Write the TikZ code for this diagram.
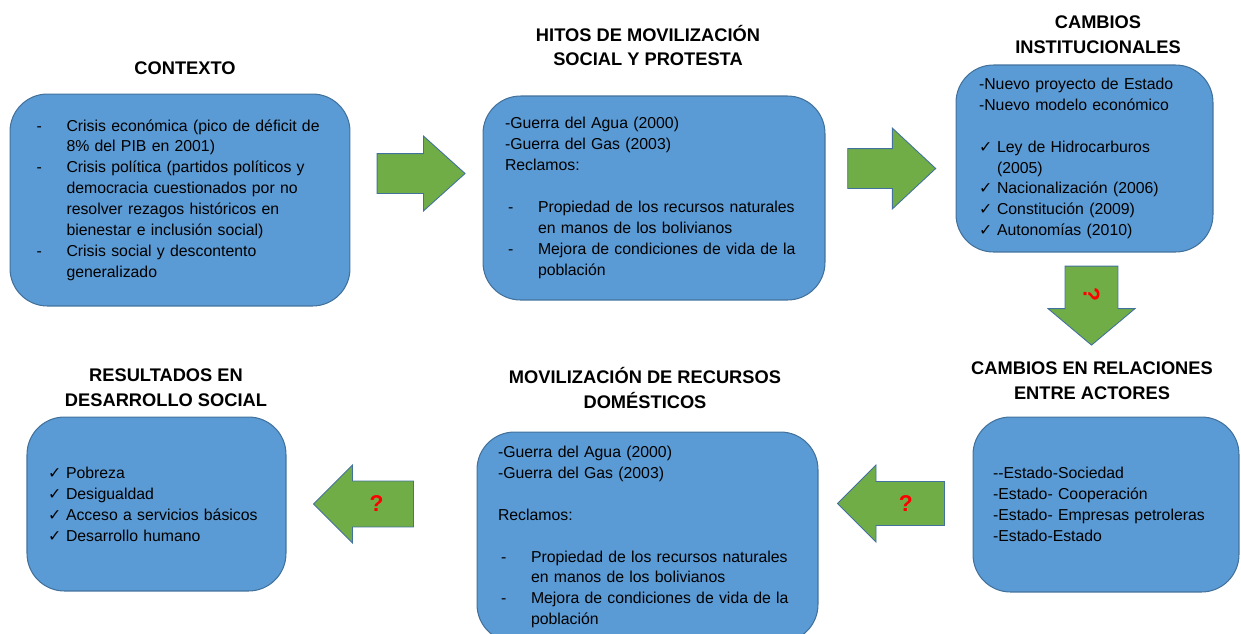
\documentclass[tikz,border=0pt]{standalone}
\usepackage{fontspec}
\setmainfont{Liberation Sans}
\newfontfamily\simbolos{DejaVu Sans}
\usepackage{tikz}
\usetikzlibrary{shapes.arrows}
\pgfdeclarelayer{flechas_layer}
\pgfdeclarelayer{esquema}
\pgfsetlayers{esquema,flechas_layer,main}
\definecolor{AzulCaja}{HTML}{5B9BD5}
\definecolor{BordeCaja}{HTML}{41719C}
\definecolor{VerdeFlecha}{HTML}{70AD47}
\tikzstyle{none}=[inner sep=0pt]
\tikzstyle{titulo}=[font=\fontsize{10.4}{14.2}\selectfont\bfseries,align=center,inner sep=0pt]
\tikzstyle{caja}=[draw=BordeCaja,fill=AzulCaja,rounded corners=0.75cm,line width=0.6pt,font=\fontsize{9}{11.9}\selectfont,align=left,inner sep=0pt]
\tikzstyle{flecha}=[single arrow,draw=BordeCaja,fill=VerdeFlecha,line width=0.5pt,inner xsep=0pt,font=\fontsize{13}{13}\selectfont\bfseries,text=red]
\newcommand{\guion}[2]{\makebox[0.66cm][l]{\hspace{0.06cm}#1}#2}
\newcommand{\visto}[1]{\makebox[0.36cm][l]{{\simbolos\fontsize{9}{9}\selectfont ✓}}#1}
\newcommand{\sinvisto}[1]{\hspace{0.36cm}#1}

\begin{document}
\begin{tikzpicture}[x=0.02cm,y=-0.02cm]
		\useasboundingbox (0,0) rectangle (1241,633);
		\begin{pgfonlayer}{esquema}
			\node [style=titulo] (t_contexto) at (185,68) {CONTEXTO};
			\node [style=titulo] (t_hitos) at (648,45.5) {HITOS DE MOVILIZACIÓN\\SOCIAL Y PROTESTA};
			\node [style=titulo] (t_instit) at (1098,35) {CAMBIOS\\INSTITUCIONALES};
			\node [style=titulo] (t_relaciones) at (1092,381) {CAMBIOS EN RELACIONES\\ENTRE ACTORES};
			\node [style=titulo] (t_recursos) at (645,388) {MOVILIZACIÓN DE RECURSOS\\DOMÉSTICOS};
			\node [style=titulo] (t_resultados) at (166,388) {RESULTADOS EN\\DESARROLLO SOCIAL};
			\node [style=caja,minimum width=6.8cm,minimum height=4.24cm,text width=5.86cm] (contexto) at (180,200) {%
				\guion{-}{Crisis económica (pico de déficit de}\\
				\guion{}{8\% del PIB en 2001)}\\
				\guion{-}{Crisis política (partidos políticos y}\\
				\guion{}{democracia cuestionados por no}\\
				\guion{}{resolver rezagos históricos en}\\
				\guion{}{bienestar e inclusión social)}\\
				\guion{-}{Crisis social y descontento}\\
				\guion{}{generalizado}};
			\node [style=caja,minimum width=6.84cm,minimum height=4.08cm,text width=5.96cm] (hitos) at (654,198) {%
				-Guerra del Agua (2000)\\
				-Guerra del Gas (2003)\\
				Reclamos:\\[11.9pt]
				\guion{-}{Propiedad de los recursos naturales}\\
				\guion{}{en manos de los bolivianos}\\
				\guion{-}{Mejora de condiciones de vida de la}\\
				\guion{}{población}};
			\node [style=caja,minimum width=5.14cm,minimum height=3.74cm,text width=4.22cm] (instit) at (1084.5,158.5) {%
				-Nuevo proyecto de Estado\\
				-Nuevo modelo económico\\[11.9pt]
				\visto{Ley de Hidrocarburos}\\
				\sinvisto{(2005)}\\
				\visto{Nacionalización (2006)}\\
				\visto{Constitución (2009)}\\
				\visto{Autonomías (2010)}};
			\node [style=caja,minimum width=5.32cm,minimum height=3.5cm,text width=4.52cm] (relaciones) at (1106,504.5) {%
				-{}-Estado-Sociedad\\
				-Estado- Cooperación\\
				-Estado- Empresas petroleras\\
				-Estado-Estado};
			\node [style=caja,minimum width=6.82cm,minimum height=4.2cm,text width=5.98cm] (recursos) at (647.5,537) {%
				-Guerra del Agua (2000)\\
				-Guerra del Gas (2003)\\[11.9pt]
				Reclamos:\\[11.9pt]
				\guion{-}{Propiedad de los recursos naturales}\\
				\guion{}{en manos de los bolivianos}\\
				\guion{-}{Mejora de condiciones de vida de la}\\
				\guion{}{población}};
			\node [style=caja,minimum width=5.18cm,minimum height=3.48cm,text width=4.34cm] (resultados) at (156.5,504) {%
				\visto{Pobreza}\\
				\visto{Desigualdad}\\
				\visto{Acceso a servicios básicos}\\
				\visto{Desarrollo humano}};
		\end{pgfonlayer}
		\begin{pgfonlayer}{flechas_layer}
			\node [style=flecha,inner ysep=0.39cm,minimum height=1.76cm,minimum width=1.48cm,single arrow head extend=0.35cm,single arrow tip angle=84] (flecha1) at (410,173.5) {};
			\node [style=flecha,inner ysep=0.39cm,minimum height=1.76cm,minimum width=1.6cm,single arrow head extend=0.41cm,single arrow tip angle=86] (flecha2) at (881,168.5) {};
			\node [style=flecha,rotate=-90,inner ysep=0.36cm,minimum height=1.58cm,minimum width=1.74cm,single arrow head extend=0.34cm,single arrow tip angle=100] (flecha3) at (1091.5,294.5) {?\hspace{0.4cm}};
			\node [style=flecha,shape border rotate=180,inner ysep=0.27cm,minimum height=2.14cm,minimum width=1.54cm,single arrow head extend=0.33cm,single arrow tip angle=90] (flecha4) at (902,503.5) {\makebox[0.71cm][l]{\hspace{0.29cm}?}};
			\node [style=flecha,shape border rotate=180,inner ysep=0.29cm,minimum height=2cm,minimum width=1.56cm,single arrow head extend=0.32cm,single arrow tip angle=90] (flecha5) at (375,504) {\makebox[0.66cm][l]{\hspace{0.22cm}?}};
		\end{pgfonlayer}
\end{tikzpicture}
\end{document}
